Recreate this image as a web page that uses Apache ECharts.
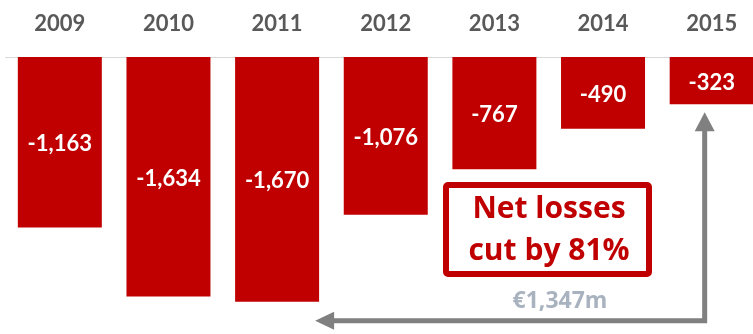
<!DOCTYPE html>
<html>
<head>
<meta charset="utf-8">
<script src="https://cdn.jsdelivr.net/npm/echarts@6/dist/echarts.min.js"></script>
<style>
  html, body { margin: 0; padding: 0; background: #fff; overflow: hidden; width: 753px; height: 334px; }
  /* the last column runs slightly past the right edge of the page */
  #chart { width: 766px; height: 334px; }
</style>
</head>
<body>
<div id="chart"></div>
<script>
// Net result per year, EUR millions
const years = ['2009', '2010', '2011', '2012', '2013', '2014', '2015'];
const netLoss = [-1163, -1634, -1670, -1076, -767, -490, -323];

const RED = '#C00000';
const FONT = 'Lato, "Open Sans", sans-serif';
const WIDE = '"Open Sans", Lato, sans-serif';

const fmt = v => v.toLocaleString('en-US');

const chart = echarts.init(document.getElementById('chart'), null, { renderer: 'canvas' });

chart.setOption({
  animation: false,
  backgroundColor: '#ffffff',
  grid: { left: 5.5, right: 0, top: 57, bottom: 13.3, containLabel: false },
  xAxis: {
    type: 'category',
    position: 'top',
    data: years,
    axisLine: { show: true, lineStyle: { color: '#d9d9d9', width: 1 } },
    axisTick: { show: false },
    axisLabel: { color: '#595959', fontFamily: FONT, fontWeight: 'bold', fontSize: 22, margin: 22 }
  },
  yAxis: {
    type: 'value',
    min: -1800,
    max: 0,
    show: false,
    splitLine: { show: false }
  },
  series: [{
    type: 'bar',
    data: netLoss,
    barWidth: 84,
    itemStyle: { color: RED },
    label: {
      show: true,
      position: 'inside',
      offset: [0, 2],
      color: '#ffffff',
      fontFamily: FONT,
      fontWeight: 'bold',
      fontSize: 22,
      formatter: p => fmt(p.value)
    }
  }]
});

// Annotation: reduction from the worst year to the latest year
const worst = Math.min(...netLoss);
const last = netLoss[netLoss.length - 1];
const worstIdx = netLoss.indexOf(worst);
const lastIdx = netLoss.length - 1;
const cut = Math.abs(worst) - Math.abs(last);
const pct = Math.round(cut / Math.abs(worst) * 100);

const px = (cat, val) => chart.convertToPixel({ gridIndex: 0 }, [cat, val]);
const lastBottom = px(lastIdx, last);
const floor = px(lastIdx, -1800);
const worstPt = px(worstIdx, worst);

const GRAY = '#808080';
const vx = lastBottom[0] - 7;
const tipY = lastBottom[1] + 8;
const hy = floor[1];
const tipX = worstPt[0] + 38;
const head = 19, half = 10;

chart.setOption({
  graphic: [
    {
      type: 'polyline', silent: true,
      shape: { points: [[vx, tipY + head - 1], [vx, hy], [tipX + head - 1, hy]] },
      style: { stroke: GRAY, lineWidth: 5, fill: null, lineJoin: 'miter' }
    },
    {
      type: 'polygon', silent: true,
      shape: { points: [[vx, tipY], [vx - half, tipY + head], [vx + half, tipY + head]] },
      style: { fill: GRAY }
    },
    {
      type: 'polygon', silent: true,
      shape: { points: [[tipX, hy], [tipX + head, hy - half + 1], [tipX + head, hy + half - 1]] },
      style: { fill: GRAY }
    },
    {
      type: 'text', silent: true,
      x: 560, y: 301,
      style: {
        text: '€' + fmt(cut) + 'm',
        fill: '#a9b3bf',
        font: 'bold 23px ' + WIDE,
        align: 'center', verticalAlign: 'middle'
      }
    },
    {
      type: 'rect', silent: true,
      shape: { x: 446, y: 185, width: 203, height: 89, r: 2 },
      style: { fill: '#ffffff', stroke: RED, lineWidth: 6 }
    },
    {
      type: 'text', silent: true,
      x: 549, y: 209,
      style: {
        text: 'Net losses',
        fill: RED,
        font: 'bold 30px ' + WIDE,
        align: 'center', verticalAlign: 'middle'
      }
    },
    {
      type: 'text', silent: true,
      x: 549, y: 251,
      style: {
        text: 'cut by ' + pct + '%',
        fill: RED,
        font: 'bold 30px ' + WIDE,
        align: 'center', verticalAlign: 'middle'
      }
    }
  ]
});
</script>
</body>
</html>
